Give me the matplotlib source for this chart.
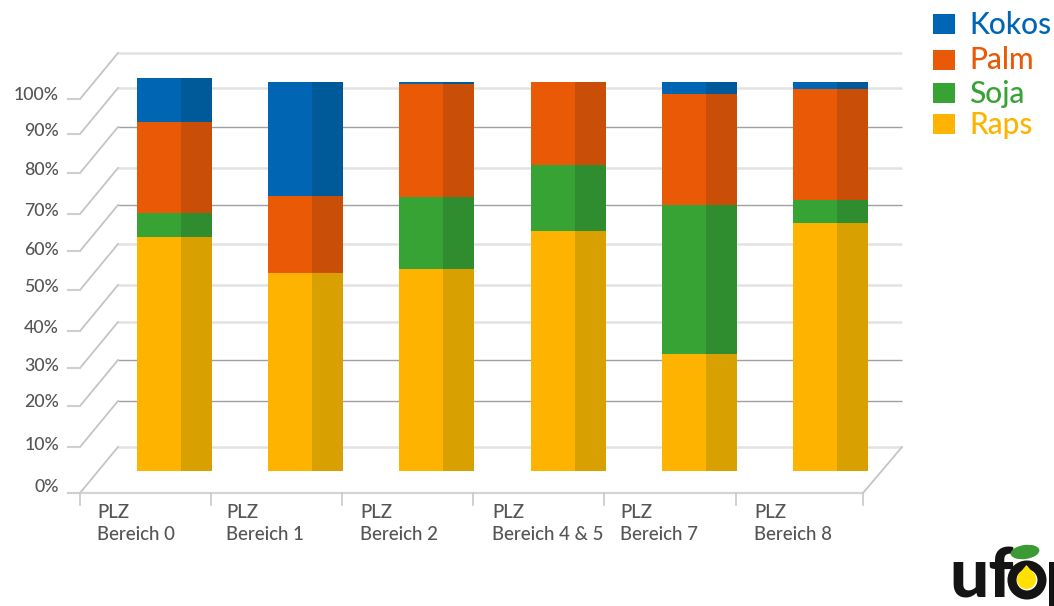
import matplotlib
matplotlib.use("Agg")
import matplotlib.pyplot as plt
from matplotlib.patches import Ellipse, Polygon, Circle, Rectangle

plt.rcParams["font.family"] = ["Lato", "DejaVu Sans"]

# stacked shares per postcode area, bottom to top
categories = ["PLZ\nBereich 0", "PLZ\nBereich 1", "PLZ\nBereich 2",
              "PLZ\nBereich 4 & 5", "PLZ\nBereich 7", "PLZ\nBereich 8"]
raps = [60.2, 50.9, 52.0, 61.7, 30.0, 63.8]
soja = [6.1, 0.0, 18.5, 17.0, 38.5, 5.9]
palm = [23.4, 19.8, 29.0, 21.3, 28.5, 28.5]
kokos = [11.3, 29.3, 0.5, 0.0, 3.0, 1.8]

tick_labels = ["0%", "10%", "20%", "30%", "40%", "50%", "60%", "70%", "80%", "90%", "100%"]

series_names = ["Kokos", "Palm", "Soja", "Raps"]
series_light = ["#0066b3", "#ea5906", "#38a335", "#fdb300"]
series_dark = ["#005a9a", "#c94f08", "#2f8c2f", "#d8a000"]

W, H = 1054, 606
fig = plt.figure(figsize=(W / 100, H / 100), dpi=100, facecolor="white")

# pixel-space layer for the 3d floor, walls, labels, legend and logo
bg = fig.add_axes([0, 0, 1, 1], zorder=0)
bg.set_xlim(0, W)
bg.set_ylim(H, 0)
bg.axis("off")

LIGHT = "#e2e2e2"
DARK = "#a0a0a0"
SLANT = "#c4c4c4"

# wall lines from floor to top, with the offset of the front edge
wall_y = [447, 401, 360, 322, 285, 244, 205, 168, 127, 88, 53]
wall_col = [LIGHT, DARK, DARK, LIGHT, LIGHT, LIGHT, DARK, LIGHT, DARK, LIGHT, LIGHT]
label_y = [487, 445, 402, 366, 328, 287, 250, 211, 170, 131, 95]
x_front, x_back, x_right = 80, 118, 902
depth_y = 46

for i, (y, c) in enumerate(zip(wall_y, wall_col)):
    lw = 1.0 if c == DARK else 1.8
    bg.plot([x_back, x_right], [y, y], color=c, lw=lw, solid_capstyle="butt")
    bg.plot([x_front, x_back], [y + depth_y, y], color=SLANT, lw=1.3)
    bg.plot([68, x_front], [y + depth_y, y + depth_y], color="#cfcfcf", lw=1.5)
    bg.text(59, label_y[i], tick_labels[i], ha="right", va="center",
            fontsize=12.8, fontweight="medium", color="#555555")

# floor front edge, right side edge and separators
bg.plot([x_front, 863], [493, 493], color="#d4d4d4", lw=1.6)
bg.plot([863, x_right], [493, 447], color=SLANT, lw=1.3)
for x in [80, 211, 342, 473, 604, 736, 863]:
    bg.plot([x, x], [493, 505], color="#c8c8c8", lw=1.2)

label_x = [97, 226, 360, 492, 620, 754]
for x, cat in zip(label_x, categories):
    first, second = cat.split("\n")
    bg.text(x, 512, first, ha="left", va="center", fontsize=13.4,
            fontweight="medium", color="#555555")
    bg.text(x, 534, second, ha="left", va="center", fontsize=13.4,
            fontweight="medium", color="#555555")

# legend
legend_y = [24, 60, 93, 124]
text_y = [25, 60, 94, 125]
for name, light, y, ty in zip(series_names, series_light, legend_y, text_y):
    bg.add_patch(Rectangle((933, y - 10), 22, 20, color=light, lw=0))
    bg.text(969, ty, name, ha="left", va="center", fontsize=21.5,
            fontweight="medium", color=light)

# logo, runs off the right edge
bg.text(949, 597, "uf", ha="left", va="baseline", fontsize=50, fontweight="black",
        color="#141414")
bg.add_patch(Circle((1027, 580), 15, fc="white", ec="#141414", lw=6.5, zorder=3))
bg.text(1045, 597, "p", ha="left", va="baseline", fontsize=50, fontweight="black",
        color="#141414", clip_on=True, zorder=2)
bg.add_patch(Ellipse((1025, 552), 29, 14, angle=-8, color="#3c9a35", lw=0, zorder=4))
bg.add_patch(Polygon([(1026.5, 565), (1035, 575), (1018, 575)], color="#ffe000", lw=0, zorder=4))
bg.add_patch(Circle((1026.5, 579.5), 9.5, color="#ffe000", lw=0, zorder=4))

# bars sit in their own axes, scaled so 0 and 100 fall on the bar plane
ax = fig.add_axes([0, 0, 1, 1], zorder=1)
ax.patch.set_alpha(0)
ax.set_xlim(-174.5 / 131.2, (W - 174.5) / 131.2)
ax.set_ylim((471 - H) / 3.89, 471 / 3.89)
ax.axis("off")

bar_w = 75 / 131.2
split = 0.587
positions = list(range(len(categories)))
bottoms = [0.0] * len(categories)

for vals, name in zip([raps, soja, palm, kokos], ["Raps", "Soja", "Palm", "Kokos"]):
    idx = series_names.index(name)
    lefts = [p - bar_w / 2 for p in positions]
    ax.bar(lefts, vals, width=bar_w * split, bottom=bottoms, align="edge",
           color=series_light[idx], lw=0)
    ax.bar([l + bar_w * split for l in lefts], vals, width=bar_w * (1 - split),
           bottom=bottoms, align="edge", color=series_dark[idx], lw=0)
    bottoms = [b + v for b, v in zip(bottoms, vals)]

fig.savefig("out.png", dpi=100)
